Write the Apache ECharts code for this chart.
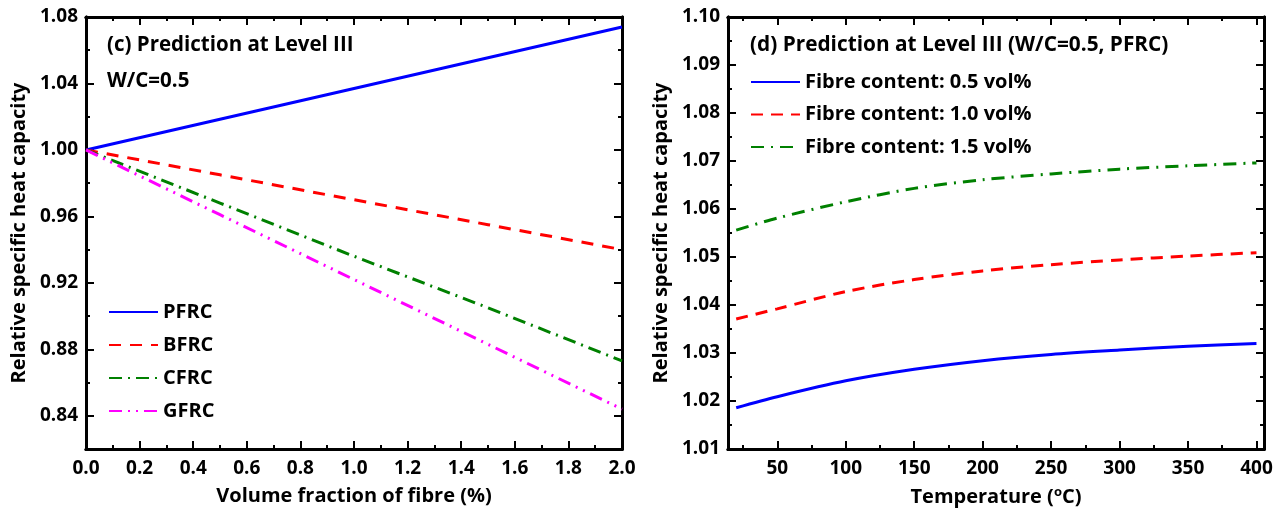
<!DOCTYPE html>
<html>
<head>
<meta charset="utf-8">
<script src="https://cdn.jsdelivr.net/npm/echarts@6/dist/echarts.min.js"></script>
<style>
  html, body { margin: 0; padding: 0; background: #ffffff; }
  #chart { width: 1284px; height: 515px; }
</style>
</head>
<body>
<div id="chart"></div>
<script>
// Panel (c): relative specific heat capacity vs. volume fraction of fibre
const volumeFraction = [0, 0.5, 1.0, 1.5, 2.0];
const pfrc = [1.000, 1.0185, 1.037, 1.0555, 1.074];
const bfrc = [1.000, 0.985, 0.970, 0.955, 0.940];
const cfrc = [1.000, 0.968, 0.936, 0.905, 0.873];
const gfrc = [1.000, 0.961, 0.922, 0.883, 0.844];

// Panel (d): relative specific heat capacity vs. temperature (PFRC)
const temperature = [20, 50, 100, 150, 200, 250, 300, 350, 400];
const fibre05 = [1.0186, 1.0209, 1.0242, 1.0266, 1.0284, 1.0297, 1.0306, 1.0314, 1.0320];
const fibre10 = [1.0371, 1.0392, 1.0428, 1.0453, 1.0471, 1.0484, 1.0494, 1.0502, 1.0509];
const fibre15 = [1.0556, 1.0581, 1.0615, 1.0643, 1.0661, 1.0673, 1.0683, 1.0690, 1.0696];

// Tick positions
const xMajorC = [0, 0.2, 0.4, 0.6, 0.8, 1.0, 1.2, 1.4, 1.6, 1.8, 2.0];
const xMinorC = [0.1, 0.3, 0.5, 0.7, 0.9, 1.1, 1.3, 1.5, 1.7, 1.9];
const yMajorC = [0.84, 0.88, 0.92, 0.96, 1.00, 1.04, 1.08];
const yMinorC = [0.86, 0.90, 0.94, 0.98, 1.02, 1.06];
const xMajorD = [50, 100, 150, 200, 250, 300, 350, 400];
const xMinorD = [25, 75, 125, 175, 225, 275, 325, 375];
const yMajorD = [1.01, 1.02, 1.03, 1.04, 1.05, 1.06, 1.07, 1.08, 1.09, 1.10];
const yMinorD = [1.015, 1.025, 1.035, 1.045, 1.055, 1.065, 1.075, 1.085, 1.095];

const FONT = 'Open Sans';
const INK = '#000000';

function makeAxes(kind, gridIndex, min, max, major, minor, fmt, name, nameGap, nameRich) {
  const sides = kind === 'x' ? ['bottom', 'top'] : ['left', 'right'];
  const axes = [];
  sides.forEach(function (pos, s) {
    [major, minor].forEach(function (vals, m) {
      const isMain = s === 0 && m === 0;
      const ax = {
        type: 'value',
        gridIndex: gridIndex,
        position: pos,
        min: min,
        max: max,
        axisLine: { show: true, onZero: false, lineStyle: { color: INK, width: 3 } },
        axisTick: {
          show: true, inside: true, length: m === 0 ? 8 : 4,
          customValues: vals,
          lineStyle: { color: INK, width: 2 }
        },
        axisLabel: isMain ? {
          show: true, customValues: vals, formatter: fmt,
          margin: kind === 'x' ? 10 : 8,
          color: INK, fontFamily: FONT, fontWeight: 'bold', fontSize: 19
        } : { show: false },
        splitLine: { show: false }
      };
      if (isMain) {
        ax.name = name;
        ax.nameLocation = 'middle';
        ax.nameGap = nameGap;
        ax.nameTextStyle = {
          color: INK, fontFamily: FONT, fontWeight: 'bold', fontSize: 20,
          rich: nameRich || undefined
        };
      }
      axes.push(ax);
    });
  });
  return axes;
}

const supRich = {
  sup: { color: INK, fontFamily: FONT, fontWeight: 'bold', fontSize: 13, verticalAlign: 'top', padding: [0, 0, 10, 0] }
};

const xAxes = []
  .concat(makeAxes('x', 0, 0, 2, xMajorC, xMinorC, function (v) { return v.toFixed(1); },
    'Volume fraction of fibre (%)', 37))
  .concat(makeAxes('x', 1, 14, 405.5, xMajorD, xMinorD, function (v) { return String(v); },
    'Temperature ({sup|o}C)', 37, supRich));

const yAxes = []
  .concat(makeAxes('y', 0, 0.82, 1.08, yMajorC, yMinorC, function (v) { return v.toFixed(2); },
    'Relative specific heat capacity', 57))
  .concat(makeAxes('y', 1, 1.01, 1.10, yMajorD, yMinorD, function (v) { return v.toFixed(2); },
    'Relative specific heat capacity', 57));

function pairs(xs, ys) { return xs.map(function (x, i) { return [x, ys[i]]; }); }

function lineSeries(name, xi, xs, ys, color, dash, smooth) {
  return {
    name: name, type: 'line', xAxisIndex: xi, yAxisIndex: xi,
    data: pairs(xs, ys), showSymbol: false, symbol: 'none',
    smooth: smooth,
    lineStyle: { color: color, width: 3, type: dash },
    itemStyle: { color: color },
    silent: true, animation: false
  };
}

const legendText = { color: INK, fontFamily: FONT, fontWeight: 'bold', fontSize: 20, lineHeight: 20 };

const option = {
  backgroundColor: '#ffffff',
  animation: false,
  grid: [
    { left: 86, top: 17, right: 662, bottom: 66 },
    { left: 728, top: 17, right: 20, bottom: 66 }
  ],
  xAxis: xAxes,
  yAxis: yAxes,
  legend: [
    {
      data: ['PFRC', 'BFRC', 'CFRC', 'GFRC'],
      orient: 'vertical', left: 108, top: 302, padding: 0,
      itemWidth: 49, itemHeight: 14, itemGap: 13,
      itemStyle: { opacity: 0 },
      textStyle: legendText, selectedMode: false
    },
    {
      data: ['Fibre content: 0.5 vol%', 'Fibre content: 1.0 vol%', 'Fibre content: 1.5 vol%'],
      orient: 'vertical', left: 750, top: 72, padding: 0,
      itemWidth: 49, itemHeight: 14, itemGap: 12.5,
      itemStyle: { opacity: 0 },
      textStyle: legendText, selectedMode: false
    }
  ],
  graphic: [
    { type: 'text', left: 107, top: 35, style: { text: '(c) Prediction at Level III', font: 'bold 20.5px "Open Sans"', fill: INK } },
    { type: 'text', left: 107, top: 71, style: { text: 'W/C=0.5', font: 'bold 20.5px "Open Sans"', fill: INK } },
    { type: 'text', left: 750, top: 35, style: { text: '(d) Prediction at Level III (W/C=0.5, PFRC)', font: 'bold 20.8px "Open Sans"', fill: INK } }
  ],
  series: [
    lineSeries('PFRC', 0, volumeFraction, pfrc, '#0000ff', 'solid', false),
    lineSeries('BFRC', 0, volumeFraction, bfrc, '#ff0000', [12, 9], false),
    lineSeries('CFRC', 0, volumeFraction, cfrc, '#008000', [13, 6, 2, 6], false),
    lineSeries('GFRC', 0, volumeFraction, gfrc, '#ff00ff', [13, 6, 2, 6, 2, 6], false),
    lineSeries('Fibre content: 0.5 vol%', 4, temperature, fibre05, '#0000ff', 'solid', 0.3),
    lineSeries('Fibre content: 1.0 vol%', 4, temperature, fibre10, '#ff0000', [12, 8], 0.3),
    lineSeries('Fibre content: 1.5 vol%', 4, temperature, fibre15, '#008000', [13, 7, 2, 7], 0.3)
  ]
};

const chart = echarts.init(document.getElementById('chart'), null, { renderer: 'canvas' });
chart.setOption(option);
</script>
</body>
</html>
